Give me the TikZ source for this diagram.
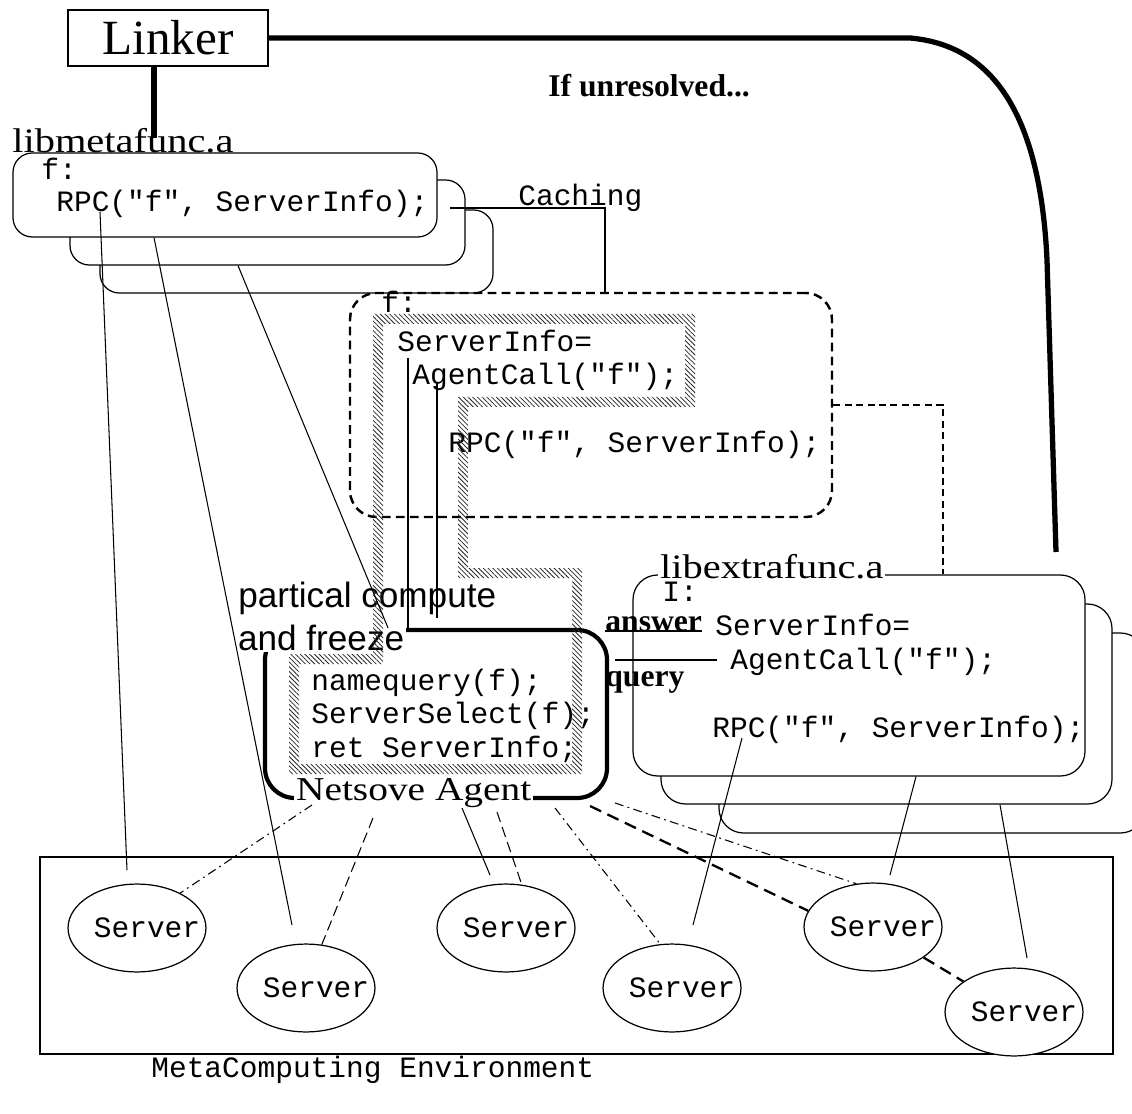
\documentclass[tikz,border=0pt]{standalone}
\usepackage{fontspec}
\setmainfont{Liberation Serif}
\setsansfont{Liberation Sans}
\setmonofont{Liberation Mono}
\newfontfamily\wideserif{Liberation Serif}[FakeStretch=1.18]
\usetikzlibrary{shapes.geometric,fit,patterns.meta}

\newcommand{\codesize}{\fontsize{16.8}{19}\selectfont}
\newcommand{\libsize}{\wideserif\fontsize{19.5}{22}\selectfont}

\begin{document}
\begin{tikzpicture}[
    x=0.02cm, y=-0.02cm,
    codeline/.style={anchor=base west, inner sep=0pt, font=\ttfamily\codesize},
    libname/.style={anchor=base west, inner sep=0pt, font=\libsize},
    boldnote/.style={anchor=base west, inner sep=0pt, font=\bfseries\fontsize{18}{20}\selectfont},
    libbox/.style={draw, line width=0.7pt, fill=white, rounded corners=11pt, inner sep=0pt},
    cachebox/.style={draw, line width=1.4pt, dash pattern=on 5pt off 3pt,
                     rounded corners=15pt, inner sep=0pt},
    agentbox/.style={draw, line width=2.4pt, rounded corners=17pt, inner sep=0pt},
    server/.style={draw, ellipse, line width=0.7pt, fill=white, inner sep=0pt,
                   minimum width=78.5pt, minimum height=50pt,
                   label={[xshift=5.7pt, font=\ttfamily\codesize]center:Server}},
    heavy/.style={line width=3pt},
    link/.style={line width=0.6pt},
    ddot/.style={line width=0.6pt, dash pattern=on 5pt off 2.5pt on 1pt off 2.5pt},
    ldash/.style={line width=0.6pt, dash pattern=on 6pt off 3pt},
    bdash/.style={line width=1.3pt, dash pattern=on 7pt off 4pt},
  ]
  \useasboundingbox (0,0) rectangle (1132,1114);

  % linker
  \node[draw, line width=0.7pt, minimum width=113.8pt, minimum height=31.9pt,
        font=\fontsize{28}{30}\selectfont] (linker) at (168,38) {Linker};
  \node[boldnote] (unres) at (548,97) {If unresolved...};

  % libmetafunc.a (three stacked copies)
  \node[libbox, fit={(100,210) (493,293)}] (meta3) {};
  \node[libbox, fit={(70,180) (465,265)}] (meta2) {};
  \node[libbox, fit={(13,153) (437,237)}] (meta1) {};
  \node[libname] (metalib) at (12,153) {libmetafunc.a};
  \node[codeline] (mf) at (41,180) {f:};
  \node[codeline] (mrpc) at (56,212) {RPC("f", ServerInfo);};

  % cached stub
  \node[cachebox, fit={(350,293) (832,517)}] (cache) {};
  \node[codeline] (cf) at (381,313) {f:};
  \node[codeline] (cinfo) at (397,352) {ServerInfo=};
  \node[codeline] (ccall) at (412,385) {AgentCall("f");};
  \node[codeline] (crpc) at (448,453) {RPC("f", ServerInfo);};
  \node[codeline] (caching) at (518,206) {Caching};

  % libextrafunc.a (three stacked copies)
  \node[libbox, rounded corners=14pt, fit={(719,633) (1145,833)}] (extra3) {};
  \node[libbox, rounded corners=14pt, fit={(661,604) (1112,804)}] (extra2) {};
  \node[libbox, rounded corners=14pt, fit={(633,575) (1085,776)}] (extra1) {};
  \node[libname, inner sep=1pt, fill=white] (extralib) at (658,578) {libextrafunc.a};
  \node[codeline] (ef) at (662,601) {I:};
  \node[codeline] (einfo) at (715,635) {ServerInfo=};
  \node[codeline] (ecall) at (730,669) {AgentCall("f");};
  \node[codeline] (erpc) at (712,737) {RPC("f", ServerInfo);};
  \node[boldnote] (ans) at (605,631) {answer};
  \node[boldnote] (qry) at (605,686) {query};

  % netsolve agent
  \node[agentbox, fit={(265,630) (607,798)}] (agent) {};
  \node[codeline] (aq) at (311,690) {namequery(f);};
  \node[codeline] (as) at (311,723) {ServerSelect(f);};
  \node[codeline] (ar) at (311,757) {ret ServerInfo;};
  \node[anchor=base west, inner sep=1pt, fill=white, font=\wideserif\fontsize{19}{22}\selectfont]
    (agentname) at (294,800) {Netsove Agent};
  \node[anchor=base west, inner sep=0pt, font=\sffamily\fontsize{20}{24}\selectfont]
    (pc1) at (238,607) {partical compute};
  \node[anchor=base west, inner sep=1pt, fill=white, font=\sffamily\fontsize{20}{24}\selectfont]
    (pc2) at (236,650) {and freeze};

  % hatched band
  \fill[even odd rule, pattern={Lines[angle=-45, distance=1.9pt, line width=0.45pt]},
        pattern color=black!85]
    (373,314) -- (695,314) -- (695,407) -- (468,407) -- (468,568) -- (582,568)
      -- (582,774) -- (289,774) -- (289,654) -- (373,654) -- cycle
    (383,324) -- (685,324) -- (685,397) -- (458,397) -- (458,578) -- (572,578)
      -- (572,764) -- (299,764) -- (299,664) -- (383,664) -- cycle;

  % metacomputing environment
  \node[draw, line width=0.7pt, inner sep=0pt, fit={(40,857) (1113,1054)}] (env) {};
  \node[codeline] (envname) at (151,1077) {MetaComputing Environment};
  \node[server] (s1) at (137,928) {};
  \node[server] (s2) at (306,988) {};
  \node[server] (s3) at (506,928) {};
  \node[server] (s4) at (672,988) {};
  \node[server] (s5) at (873,927) {};
  \node[server] (s6) at (1014,1012) {};

  % free ends of the connectors
  \coordinate (metaTop) at (154,138);
  \coordinate (extraHook) at (1056,552);
  \coordinate (cacheFrom) at (450,208);
  \coordinate (qTop) at (408,358);
  \coordinate (aTop) at (437,383);
  \coordinate (aBot) at (437,618);
  \coordinate (qL) at (615,660);
  \coordinate (qR) at (717,660);
  \coordinate (rpcA) at (100,212);
  \coordinate (rpcB) at (742,738);
  \coordinate (s1Hook) at (127,870);
  \coordinate (s2Hook) at (292,925);
  \coordinate (s3Hook) at (490,875);
  \coordinate (s4Hook) at (693,925);
  \coordinate (s5Hook) at (890,875);
  \coordinate (s6Hook) at (1027,958);
  \coordinate (agS1) at (312,805);
  \coordinate (agS2) at (373,818);
  \coordinate (agS3a) at (462,808);
  \coordinate (agS3b) at (497,812);
  \coordinate (agS4) at (555,808);
  \coordinate (agS5a) at (590,806);
  \coordinate (agS5b) at (615,803);

  % linker links
  \draw[heavy] (linker.east) -- (910,38)
    .. controls (990,45) and (1040,110) .. (1047,260) -- (extraHook);
  \draw[heavy] (linker.south -| metaTop) -- (metaTop);

  % caching
  \draw[line width=1.5pt] (cacheFrom) -| ([xshift=0.28cm]cache.north);
  \draw[link, dash pattern=on 4pt off 2.5pt] (cache.east) -| ([xshift=1.68cm]extra1.north);
  \draw[link] (qTop) -- (qTop |- agent.north);
  \draw[link] (aTop) -- (aBot);

  % answer / query
  \draw[link] (ans.base west) -- (ans.base east);
  \draw[link] (qL) -- (qR);

  % library calls
  \draw[link] (rpcA) -- (s1Hook);
  \draw[link] ([xshift=-1.42cm]meta1.south) -- (s2Hook);
  \draw[link] ([xshift=-0.59cm]meta2.south) -- ([xshift=-0.96cm]agent.north);
  \draw[link] (rpcB) -- (s4Hook);
  \draw[link] ([xshift=1.14cm]extra1.south) -- (s5Hook);
  \draw[link] ([xshift=2.27cm]extra2.south) -- (s6Hook);

  % agent to servers
  \draw[ddot] (agS1) -- (s1.39);
  \draw[ldash] (agS2) -- (s2.70);
  \draw[link] (agS3a) -- (s3Hook);
  \draw[ldash] (agS3b) -- (s3.70);
  \draw[ddot] (agS4) -- (s4.105);
  \draw[bdash] (agS5a) -- (s5.166);
  \draw[ddot] (agS5b) -- (s5.111);
  \draw[bdash] (s5) -- (s6);
\end{tikzpicture}
\end{document}
